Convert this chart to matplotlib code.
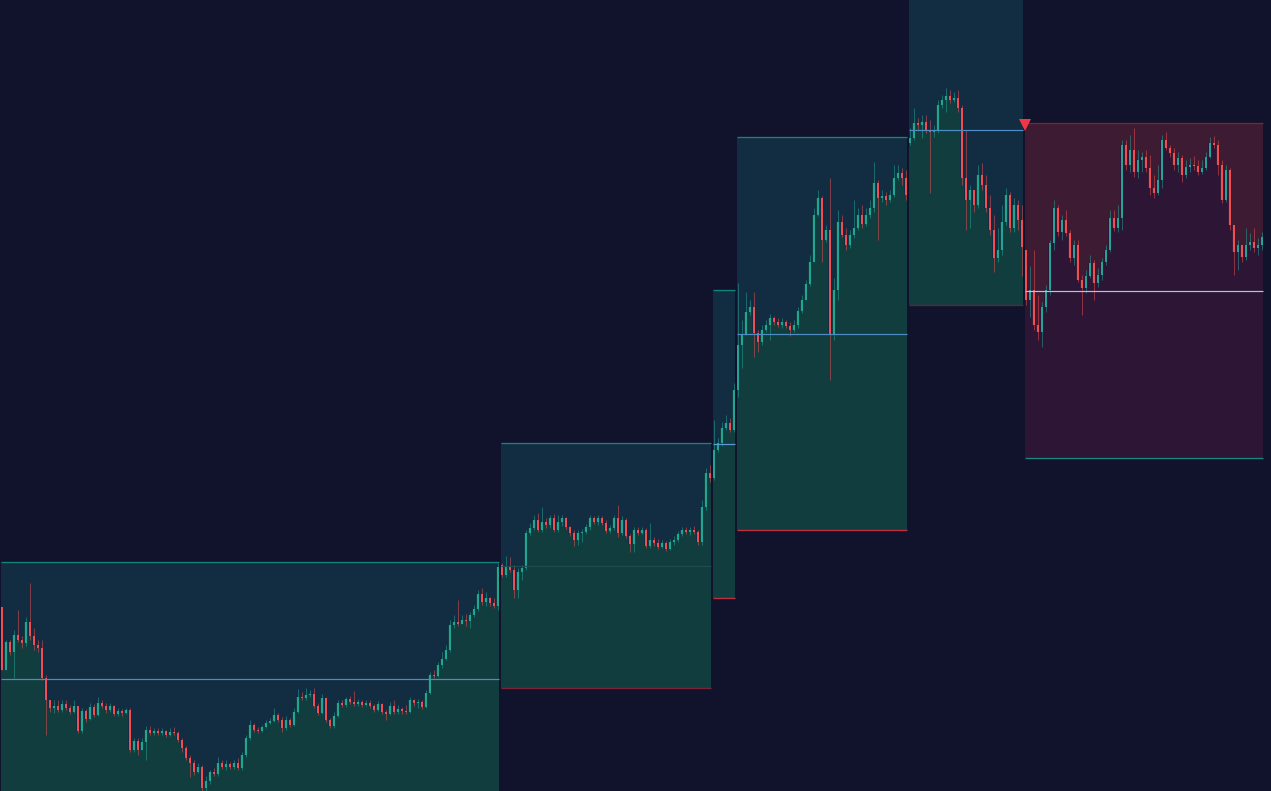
import numpy as np
import matplotlib
matplotlib.use("Agg")
import matplotlib.pyplot as plt
from matplotlib.patches import Rectangle

# ---------------- data (arbitrary price units) ----------------
s1_open = 193
s1_close = [130,158,148,165,160,157,178,164,155,152,
            122,100,92,94,90,96,92,88,94,69,
            89,81,93,85,97,94,90,94,86,89,
            87,90,50,59,50,58,70,67,69,67,
            69,65,68,67,60,52,42,37,28,33,
            12,19,28,26,37,33,36,33,37,32,
            45,62,75,70,69,73,77,79,85,80,
            72,80,75,88,103,102,105,106,94,87,
            102,80,74,84,97,95,101,98,96,98,
            95,97,94,90,96,88,86,94,88,91,
            89,88,100,97,98,93,107,125,124,135,
            141,150,175,178,176,180,179,185,191,206,
            198,202,197,194,233]
s1_high = [193,160,160,170,190,164,183,217,172,160,
           160,125,100,100,100,100,100,95,100,90,
           92,91,97,96,103,100,97,97,95,92,
           91,92,92,62,62,62,74,74,72,72,
           72,70,72,73,69,62,54,45,40,37,
           35,24,30,32,43,40,40,38,40,42,
           48,65,80,77,73,75,80,82,92,87,
           83,84,82,92,111,108,112,110,112,97,
           106,103,82,88,100,100,103,104,109,101,
           100,100,100,96,99,97,90,98,100,95,
           93,95,103,101,101,100,110,128,130,138,
           148,155,180,185,200,185,186,188,195,210,
           212,208,203,202,237]
s1_low = [130,130,145,122,158,152,154,160,150,148,
          120,65,88,87,88,88,90,86,87,67,
          67,78,80,83,84,92,87,88,84,84,
          84,86,48,48,45,50,40,65,65,65,
          65,63,64,65,58,48,40,23,25,27,
          5,5,16,24,24,31,30,31,31,30,
          30,43,60,68,67,68,72,76,78,78,
          68,70,73,74,87,100,100,103,92,85,
          86,78,72,72,83,93,93,96,94,94,
          93,94,92,88,89,86,80,85,86,86,
          86,86,87,94,92,91,92,106,122,123,
          132,140,148,172,174,176,174,172,183,189,
          195,194,194,192,190]

s2_open = 235
s2_close = [225,234,230,210,228,232,267,272,280,270,
            278,275,282,270,278,282,273,267,260,267,
            268,273,282,278,282,277,269,272,282,267,
            280,264,256,270,267,270,254,260,257,253,
            257,251,258,260,266,270,268,270,268,258,
            293,327,322]
s2_high = [237,244,243,235,232,235,270,277,285,287,
           293,282,285,286,285,285,283,274,270,270,
           271,276,285,284,285,284,280,275,285,295,
           284,282,266,273,273,273,272,277,263,261,
           260,259,261,264,269,273,273,273,274,270,
           300,332,335]
s2_low = [223,223,228,202,202,220,230,265,270,268,
          268,272,272,268,268,274,271,264,254,255,
          258,266,270,276,275,275,267,267,270,263,
          265,262,248,248,265,266,252,252,254,251,
          252,249,250,255,258,264,266,265,266,255,
          255,290,318]

s3_open = 322
s3_close = [350,357,372,377,370,410]
s3_high = [380,362,378,385,382,417]
s3_low = [320,348,354,370,368,368]

s4_open = 410
s4_close = [455,465,488,493,467,458,470,475,482,478,
            475,478,474,470,475,489,500,516,538,585,
            602,560,570,465,510,578,565,555,565,572,
            585,576,585,592,617,602,604,600,605,622,
            627,622,605]
s4_high = [517,480,508,500,508,470,475,480,486,484,
           482,482,480,478,480,493,505,520,545,592,
           610,604,575,622,522,590,585,572,570,600,
           592,595,592,600,638,620,610,608,610,635,
           635,632,630]
s4_low = [403,432,465,485,443,448,455,468,460,475,
          473,472,472,464,468,472,487,500,514,538,
          584,538,558,420,460,500,563,550,552,562,
          570,572,574,582,588,560,598,595,598,603,
          620,615,600]

s5_open = 657
s5_close = [662,677,675,678,670,668,670,695,700,704,
            700,702,692,622,600,610,595,625,615,592,
            570,542,550,578,605,572,595,580,553]
s5_high = [672,692,682,685,685,680,675,700,705,712,
           710,708,710,695,670,615,610,635,637,625,
           605,585,572,595,612,608,602,600,595]
s5_low = [655,660,670,662,667,607,663,667,692,688,
          697,698,688,615,570,572,588,592,610,588,
          565,528,538,545,575,568,568,570,524]

s6_open = 550
s6_close = [500,510,475,468,493,510,557,592,568,580,
            567,542,555,520,512,524,537,517,525,538,
            550,582,572,582,655,635,650,628,640,643,
            632,612,607,620,660,652,647,635,642,625,
            633,635,634,628,632,643,657,655,635,600,
            630,575,548,555,543,555,558,552,555,563]
s6_high = [550,534,550,505,498,515,560,600,595,585,
           590,570,560,560,525,530,545,540,532,542,
           555,590,590,595,660,660,665,672,650,648,
           650,645,625,635,665,668,655,652,648,645,
           640,642,644,640,640,648,663,664,660,640,
           635,632,570,560,555,572,567,572,562,568]
s6_low = [495,483,470,460,453,488,505,550,564,560,
          564,538,535,518,485,507,522,500,513,520,
          535,548,569,568,570,630,628,623,622,628,
          628,605,602,605,612,650,643,630,628,618,
          622,628,630,625,626,630,642,652,625,597,
          598,570,525,530,538,540,550,548,545,550]

box_top = [238, 357, 510, 663, 845, 677]
box_bottom = [4, 112, 202, 270, 495, 342]

sessions = [
    (s1_open, s1_close, s1_high, s1_low),
    (s2_open, s2_close, s2_high, s2_low),
    (s3_open, s3_close, s3_high, s3_low),
    (s4_open, s4_close, s4_high, s4_low),
    (s5_open, s5_close, s5_high, s5_low),
    (s6_open, s6_close, s6_high, s6_low),
]

# ---------------- style ----------------
BG = "#11122c"
UP = "#22a596"
DN = "#f04e52"
box_fill = ["#122d42"] * 5 + ["#3c1b33"]
area_fill = ["#113d3e"] * 5 + ["#2c1535"]
top_col = ["#13857b", "#13857b", "#13857b", "#13857b", "#13857b", "#7a2638"]
bot_col = ["#b02a3a", "#7d2436", "#c0303e", "#c0303e", "#6b2035", "#13897f"]
mid_col = ["#4f8cc4", "#1d4d52", "#5a9ad8", "#4f8cc4", "#4f8cc4", "#b4c0ee"]
PX = 0.72  # one pixel in points at 100 dpi

fig = plt.figure(figsize=(12.71, 7.91), dpi=100, facecolor=BG)
ax = fig.add_axes([0, 0, 1, 1])
ax.set_facecolor(BG)
ax.set_axis_off()

start = 0
gap = 0.35
for k, (op, cl, hi, lo) in enumerate(sessions):
    cl = np.array(cl, float)
    n = len(cl)
    assert len(hi) == n and len(lo) == n, (k, n, len(hi), len(lo))
    opn = np.concatenate([[op], cl[:-1]])
    hi = np.maximum(np.array(hi, float), np.maximum(opn, cl))
    lo = np.minimum(np.array(lo, float), np.minimum(opn, cl))
    x = start + np.arange(n) + 0.5
    left, right = start + gap, start + n - gap
    top, bot = box_top[k], box_bottom[k]

    ax.add_patch(Rectangle((left, bot), right - left, top - bot,
                           facecolor=box_fill[k], edgecolor="none", zorder=1))
    xs = np.arange(start, start + n + 1, dtype=float)
    xs[0], xs[-1] = left, right
    ys = np.concatenate([cl, [cl[-1]]])
    ax.fill_between(xs, ys, bot, step="post", color=area_fill[k],
                    linewidth=0, zorder=2)
    ax.hlines(top, left, right, color=top_col[k], lw=1.3 * PX, zorder=3)
    ax.hlines(bot, left, right, color=bot_col[k], lw=1.3 * PX, zorder=3)
    ax.hlines((top + bot) / 2, left, right, color=mid_col[k], lw=1.2 * PX,
              zorder=6)

    up = cl >= opn
    cols = np.where(up, UP, DN)
    ax.vlines(x, lo, hi, colors=cols, lw=1.0 * PX, alpha=0.5, zorder=4)
    h = cl - opn
    h = np.where(np.abs(h) < 1.2, np.where(up, 1.2, -1.2), h)
    ax.bar(x, h, bottom=opn, width=0.62, color=cols, linewidth=0, zorder=5)

    if k == 5:
        ax.plot([left], [top - 2], marker="v", color="#f23645",
                markersize=9, markeredgewidth=0, zorder=7)
    start += n

ax.set_xlim(0, 1271 / 4)
ax.set_ylim(9, 800)
fig.savefig("out.png", dpi=100, facecolor=BG)
